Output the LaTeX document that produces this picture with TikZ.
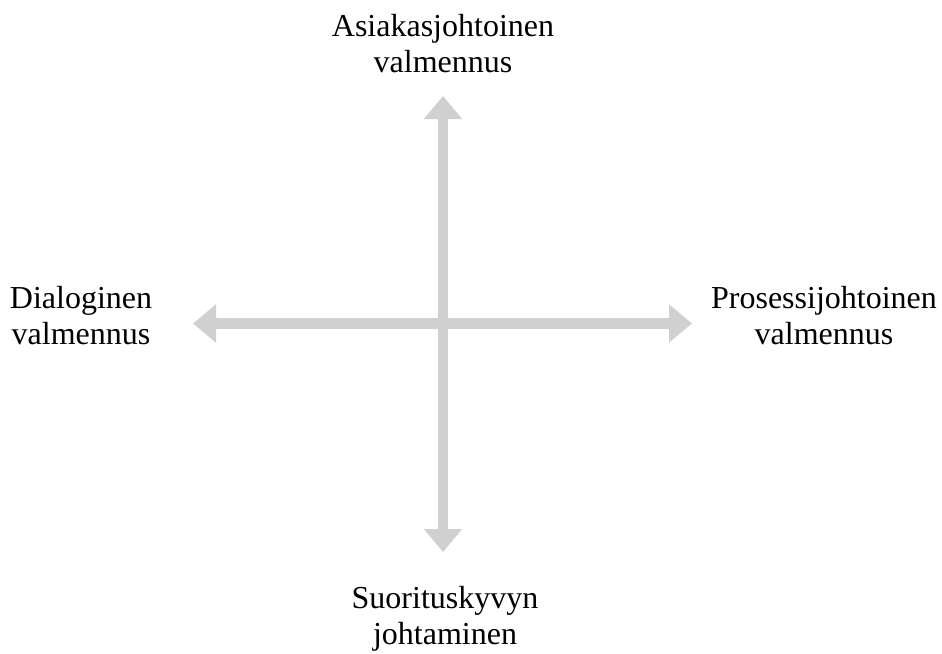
\documentclass[tikz,border=0pt]{standalone}
\usepackage{fontspec}
\setmainfont{Liberation Serif}
\usetikzlibrary{arrows.meta}
\definecolor{axisgray}{RGB}{208,208,208}
\tikzset{
  axisarrow/.style={draw=axisgray, line width=10.5pt, {Triangle[width=37pt,length=23pt]}-{Triangle[width=37pt,length=23pt]}},
  lbl/.style={anchor=base, inner sep=0pt, font=\fontsize{32}{36}\selectfont, text=black}
}
\begin{document}
\begin{tikzpicture}[x=1pt,y=-1pt]
\useasboundingbox (0,0) rectangle (942,653);
\coordinate (ntip) at (443,96);
\coordinate (stip) at (443,552);
\coordinate (wtip) at (193,323.5);
\coordinate (etip) at (692,323.5);
\draw[axisarrow] (ntip) -- (stip);
\draw[axisarrow] (wtip) -- (etip);
\node[lbl] (n1) at (443,36) {Asiakasjohtoinen};
\node[lbl] (n2) at (443,72) {valmennus};
\node[lbl] (w1) at (81,308) {Dialoginen};
\node[lbl] (w2) at (81,344) {valmennus};
\node[lbl] (e1) at (824,308) {Prosessijohtoinen};
\node[lbl] (e2) at (824,344) {valmennus};
\node[lbl] (s1) at (445,608) {Suorituskyvyn};
\node[lbl] (s2) at (445,644) {johtaminen};
\end{tikzpicture}
\end{document}
